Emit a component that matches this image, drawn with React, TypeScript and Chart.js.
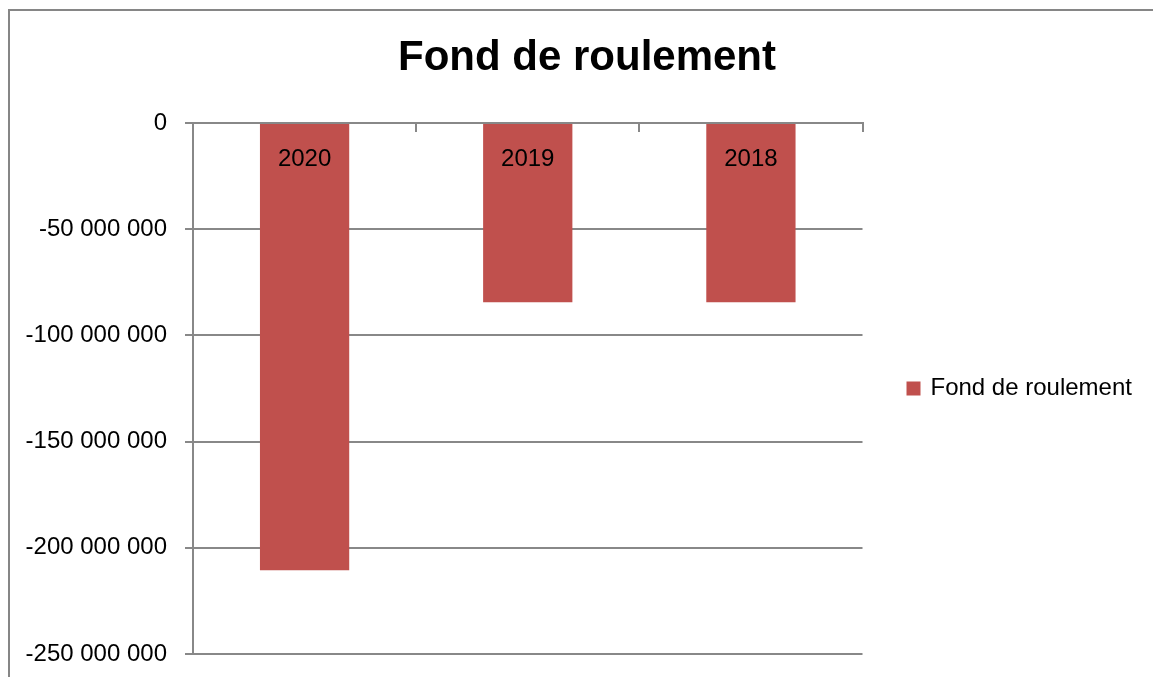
import React, { useEffect, useRef } from "react";
import { Chart, registerables } from "chart.js";

Chart.register(...registerables);

const categories: string[] = ["2020", "2019", "2018"];
const seriesName = "Fond de roulement";
const seriesValues: number[] = [-210600000, -84400000, -84400000];
const chartTitle = "Fond de roulement";
const yMin = -250000000;
const yMax = 0;
const yStep = 50000000;

const GRAY = "#888888";
const BAR = "#C0504D";
const FONT = "'Liberation Sans', Arial, sans-serif";

function fmt(v: number): string {
  const n = Math.round(v);
  const s = Math.abs(n).toString().replace(/\B(?=(\d{3})+(?!\d))/g, " ");
  return (n < 0 ? "-" : "") + s;
}

const framePlugin = {
  id: "frame",
  beforeDraw(chart: any) {
    const ctx = chart.ctx;
    ctx.save();
    ctx.fillStyle = "#ffffff";
    ctx.fillRect(0, 0, chart.width, chart.height);
    ctx.strokeStyle = "#868686";
    ctx.lineWidth = 2;
    ctx.strokeRect(9, 10, chart.width + 50, chart.height + 50);
    ctx.restore();
  },
  afterLayout(chart: any) {
    // let the y tick labels extend to the left edge without clipping
    if (chart.scales && chart.scales.y) chart.scales.y.left = 0;
  },
};

export default function App() {
  const ref = useRef<HTMLCanvasElement | null>(null);
  useEffect(() => {
    if (!ref.current) return;
    const chart = new Chart(ref.current, {
      type: "bar",
      data: {
        labels: categories,
        datasets: [
          {
            label: seriesName,
            data: seriesValues,
            backgroundColor: BAR,
            borderWidth: 0,
            barPercentage: 0.4,
            categoryPercentage: 1.0,
          },
        ],
      },
      options: {
        animation: false,
        responsive: true,
        maintainAspectRatio: false,
        layout: { padding: { left: 36, right: 15, top: 0, bottom: 23 } },
        plugins: {
          title: {
            display: true,
            text: chartTitle,
            color: "#000000",
            font: { family: FONT, size: 42, weight: "bold" },
            padding: { top: 32.8, bottom: 39.8 },
          },
          legend: {
            display: true,
            position: "right",
            fullSize: false,
            labels: {
              color: "#000000",
              font: { family: FONT, size: 24 },
              boxWidth: 10,
              boxHeight: 10,
              padding: 46,
              generateLabels(chart: any) {
                const items = (Chart.defaults.plugins.legend.labels as any).generateLabels(chart);
                items.forEach((it: any) => {
                  it.lineWidth = 4;
                  it.strokeStyle = BAR;
                  it.fillStyle = BAR;
                });
                return items;
              },
            },
          },
          tooltip: { enabled: false },
        },
        scales: {
          x: {
            position: { y: 0 } as any,
            grid: {
              display: true,
              drawOnChartArea: false,
              drawTicks: true,
              tickLength: 8,
              color: GRAY,
              lineWidth: 2,
              z: 1,
            },
            border: { display: true, color: GRAY, width: 2, z: 1 },
            ticks: {
              color: "#000000",
              font: { family: FONT, size: 24 },
              padding: 13.5,
              maxRotation: 0,
              z: 2,
            },
            afterFit(scale: any) {
              scale.paddingLeft = 0;
              scale.paddingRight = 0;
              scale.paddingTop = 0;
              scale.paddingBottom = 0;
            },
          },
          y: {
            min: yMin,
            max: yMax,
            grid: {
              display: true,
              drawOnChartArea: true,
              drawTicks: true,
              tickLength: 8,
              color: GRAY,
              lineWidth: 2,
            },
            border: { display: true, color: GRAY, width: 2 },
            ticks: {
              stepSize: yStep,
              color: "#000000",
              font: { family: FONT, size: 24 },
              padding: 18,
              callback: (v: any) => fmt(Number(v)),
            },
            afterFit(scale: any) {
              scale.width = 157;
              scale.paddingTop = 0;
              scale.paddingBottom = 0;
              scale.paddingLeft = 0;
              scale.paddingRight = 0;
            },
          },
        },
      },
      plugins: [framePlugin],
    });
    return () => chart.destroy();
  }, []);

  return (
    <div style={{ position: "fixed", left: 0, top: 0, width: 1153, height: 677, background: "#fff" }}>
      <canvas ref={ref} />
    </div>
  );
}
